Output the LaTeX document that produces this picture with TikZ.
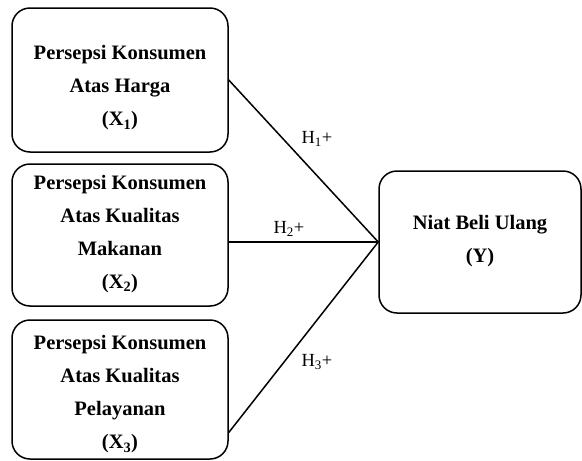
\documentclass[tikz,border=0pt]{standalone}
\usepackage{fontspec}
\setmainfont{Liberation Serif}
\begin{document}
\begin{tikzpicture}[x=1pt,y=-1pt]
    \tikzset{var/.style = {draw, line width=1.5pt, rounded corners=18pt, inner sep=0pt, minimum width=216pt}}
    \tikzset{vartext/.style = {align=center, inner sep=0pt, font=\fontsize{20.5}{33}\selectfont\bfseries}}
    \tikzset{path/.style = {line width=1.5pt}}
    \tikzset{hyp/.style = {font=\fontsize{18.5}{20}\selectfont}}
    \useasboundingbox (0,0) rectangle (582,461);
    \node[var, minimum height=144pt, label={[vartext, yshift=-8pt]center:{Persepsi Konsumen\\Atas Harga\\(X\textsubscript{1})}}] (x1) at (120,80) {};
    \node[var, minimum height=142pt, label={[vartext, yshift=1pt]center:{Persepsi Konsumen\\Atas Kualitas\\Makanan\\(X\textsubscript{2})}}] (x2) at (120,235) {};
    \node[var, minimum height=139pt, label={[vartext, yshift=-5pt]center:{Persepsi Konsumen\\Atas Kualitas\\Pelayanan\\(X\textsubscript{3})}}] (x3) at (120,389.5) {};
    \node[var, minimum width=202pt, minimum height=142pt, label={[vartext, yshift=1pt]center:{Niat Beli Ulang\\(Y)}}] (y) at (480,242) {};
    \draw[path] (x1.east) -- (y.west);
    \draw[path] (x2.east |- y.west) -- (y.west);
    \draw[path] ([yshift=-43pt]x3.east) -- (y.west);
    \node[hyp] (h1) at (317,139) {H\textsubscript{1}+};
    \node[hyp] (h2) at (289,229) {H\textsubscript{2}+};
    \node[hyp] (h3) at (317,362) {H\textsubscript{3}+};
\end{tikzpicture}
\end{document}
